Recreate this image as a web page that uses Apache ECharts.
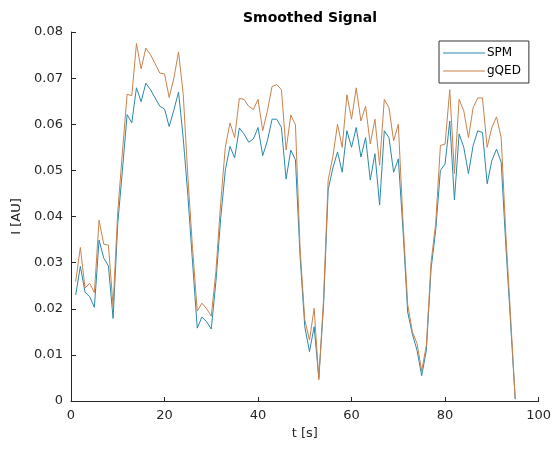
<!DOCTYPE html>
<html>
<head>
<meta charset="utf-8">
<script src="https://cdn.jsdelivr.net/npm/echarts@6/dist/echarts.min.js"></script>
<style>
    html, body { margin: 0; padding: 0; background: #fff; }
    #chart { width: 554px; height: 450px; }
</style>
</head>
<body>
<div id="chart"></div>
<script>
// 时间轴 (s)
const time = [
    1, 2, 3, 4, 5, 6, 7, 8, 9, 10, 11, 12, 13, 14, 15, 16, 17, 18, 19, 20,
    21, 22, 23, 24, 25, 26, 27, 28, 29, 30, 31, 32, 33, 34, 35, 36, 37, 38, 39, 40,
    41, 42, 43, 44, 45, 46, 47, 48, 49, 50, 51, 52, 53, 54, 55, 56, 57, 58, 59, 60,
    61, 62, 63, 64, 65, 66, 67, 68, 69, 70, 71, 72, 73, 74, 75, 76, 77, 78, 79, 80,
    81, 82, 83, 84, 85, 86, 87, 88, 89, 90, 91, 92, 93, 94, 95
];

// SPM 平滑信号
const spm = [
    0.0230, 0.0292, 0.0236, 0.0226, 0.0203, 0.0349, 0.0310, 0.0293, 0.0179, 0.0385,
    0.0500, 0.0621, 0.0603, 0.0679, 0.0649, 0.0689, 0.0675, 0.0657, 0.0639, 0.0633,
    0.0595, 0.0631, 0.0670, 0.0570, 0.0445, 0.0300, 0.0158, 0.0182, 0.0172, 0.0156,
    0.0260, 0.0395, 0.0500, 0.0552, 0.0527, 0.0592, 0.0579, 0.0561, 0.0568, 0.0593,
    0.0532, 0.0564, 0.0611, 0.0611, 0.0593, 0.0481, 0.0544, 0.0523, 0.0313, 0.0161,
    0.0107, 0.0161, 0.0050, 0.0205, 0.0458, 0.0505, 0.0540, 0.0496, 0.0586, 0.0550,
    0.0593, 0.0529, 0.0571, 0.0479, 0.0536, 0.0425, 0.0586, 0.0571, 0.0496, 0.0525,
    0.0371, 0.0193, 0.0145, 0.0110, 0.0055, 0.0110, 0.0286, 0.0371, 0.0500, 0.0514,
    0.0607, 0.0436, 0.0579, 0.0550, 0.0493, 0.0554, 0.0586, 0.0582, 0.0471, 0.0521,
    0.0546, 0.0518, 0.0336, 0.0171, 0.0004
];

// gQED 平滑信号
const gqed = [
    0.0259, 0.0333, 0.0245, 0.0255, 0.0235, 0.0392, 0.0340, 0.0338, 0.0205, 0.0410,
    0.0540, 0.0665, 0.0662, 0.0775, 0.0720, 0.0765, 0.0751, 0.0731, 0.0711, 0.0709,
    0.0658, 0.0700, 0.0757, 0.0665, 0.0485, 0.0330, 0.0195, 0.0212, 0.0200, 0.0184,
    0.0282, 0.0428, 0.0550, 0.0603, 0.0571, 0.0656, 0.0654, 0.0639, 0.0632, 0.0654,
    0.0586, 0.0629, 0.0682, 0.0686, 0.0675, 0.0544, 0.0620, 0.0599, 0.0328, 0.0176,
    0.0132, 0.0201, 0.0046, 0.0219, 0.0479, 0.0530, 0.0600, 0.0550, 0.0664, 0.0611,
    0.0679, 0.0607, 0.0639, 0.0557, 0.0611, 0.0511, 0.0654, 0.0636, 0.0564, 0.0600,
    0.0390, 0.0210, 0.0150, 0.0125, 0.0065, 0.0121, 0.0300, 0.0386, 0.0554, 0.0557,
    0.0675, 0.0493, 0.0654, 0.0629, 0.0571, 0.0636, 0.0657, 0.0657, 0.0550, 0.0593,
    0.0616, 0.0571, 0.0360, 0.0185, 0.0004
];

const seriesNames = ['SPM', 'gQED'];
const seriesColors = ['#2a88ab', '#c9824c'];

const axisColor = '#262626';
const fontFamily = '"DejaVu Sans", sans-serif';

const chart = echarts.init(document.getElementById('chart'));

const toPairs = vals => time.map((t, i) => [t, vals[i]]);

chart.setOption({
    animation: false,
    backgroundColor: '#fff',
    title: {
        text: 'Smoothed Signal',
        left: 305,
        top: 6,
        textAlign: 'center',
        textStyle: { fontSize: 14, fontWeight: 'bold', color: '#000', fontFamily: fontFamily }
    },
    legend: {
        data: seriesNames,
        orient: 'vertical',
        left: 439,
        top: 41,
        padding: [5, 8, 5, 4],
        itemGap: 4,
        icon: 'rect',
        itemWidth: 42,
        itemHeight: 1,
        borderColor: '#333',
        borderWidth: 1,
        backgroundColor: '#fff',
        textStyle: { fontSize: 12, lineHeight: 14, color: '#000', fontFamily: fontFamily, padding: [0, 0, 0, -3] }
    },
    grid: { left: 71, right: 14, top: 32, bottom: 49 },
    xAxis: {
        type: 'value',
        min: 0,
        max: 100,
        interval: 20,
        name: 't [s]',
        nameLocation: 'middle',
        nameGap: 26,
        nameTextStyle: { fontSize: 13, color: axisColor, fontFamily: fontFamily },
        axisLine: { lineStyle: { color: axisColor, width: 1 } },
        axisTick: { inside: true, length: 4, lineStyle: { color: axisColor } },
        axisLabel: { fontSize: 13, color: axisColor, margin: 8, fontFamily: fontFamily },
        splitLine: { show: false }
    },
    yAxis: {
        type: 'value',
        min: 0,
        max: 0.08,
        interval: 0.01,
        name: 'I [AU]',
        nameLocation: 'middle',
        nameGap: 48,
        nameTextStyle: { fontSize: 13, color: axisColor, fontFamily: fontFamily },
        axisLine: { show: true, lineStyle: { color: axisColor, width: 1 } },
        axisTick: { show: true, inside: true, length: 5, lineStyle: { color: axisColor } },
        axisLabel: {
            fontSize: 13,
            color: axisColor,
            margin: 8,
            fontFamily: fontFamily,
            formatter: v => (v === 0 ? '0' : v.toFixed(2))
        },
        splitLine: { show: false }
    },
    series: [
        {
            name: seriesNames[0],
            type: 'line',
            data: toPairs(spm),
            symbol: 'none',
            lineStyle: { width: 1, color: seriesColors[0] },
            itemStyle: { color: seriesColors[0] }
        },
        {
            name: seriesNames[1],
            type: 'line',
            data: toPairs(gqed),
            symbol: 'none',
            lineStyle: { width: 1, color: seriesColors[1] },
            itemStyle: { color: seriesColors[1] }
        }
    ]
});
</script>
</body>
</html>
